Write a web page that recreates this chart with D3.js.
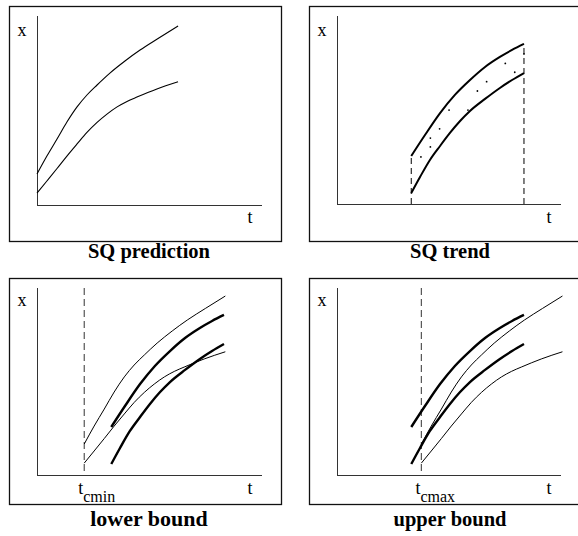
<!DOCTYPE html>
<html>
<head>
<meta charset="utf-8">
<title>SQ bounds</title>
<script src="https://cdn.jsdelivr.net/npm/d3@7"></script>
<style>
  body { margin: 0; background: #fff; }
  text { font-family: "Liberation Serif", "Times New Roman", serif; fill: #000; }
  .title { font-weight: bold; }
</style>
</head>
<body>
<div id="chart"></div>
<script>

// SQ prediction curves (t, x), t counted from the start of the prediction
const predUpper = [[0, 16.4], [4.4, 25.9], [8.9, 34.9], [13.3, 43.9], [17.8, 51.9], [22.2, 58.2], [26.7, 63.5],
                   [32.4, 69.8], [39.1, 76.2], [45.8, 82.0], [53.8, 88.1], [62.7, 94.7]];
const predLower = [[0, 6.3], [4.4, 12.7], [8.9, 19.3], [13.3, 25.9], [17.8, 32.3], [22.2, 38.4], [26.7, 43.7],
                   [31.1, 48.1], [35.6, 51.9], [40.0, 54.8], [44.4, 57.1], [53.3, 61.4], [62.7, 65.2]];

// SQ trend band and the observations it was fitted to
const trendUpper = [[33.0, 25.4], [39.1, 36.5], [45.8, 48.1], [52.4, 57.7], [59.1, 65.6], [65.8, 72.5],
                    [72.4, 77.8], [77.8, 81.5], [83.1, 84.7]];
const trendLower = [[33.0, 5.8], [36.9, 14.3], [41.3, 23.3], [45.8, 30.7], [50.2, 37.6], [54.7, 43.9],
                    [59.1, 49.2], [65.8, 55.6], [72.4, 61.4], [77.8, 65.6], [83.1, 69.3]];
const trendDots = [[37.3, 24.9], [41.5, 34.9], [41.5, 30.2], [45.6, 39.8], [49.8, 49.7], [58.2, 49.7],
                   [62.4, 59.8], [66.5, 64.7], [74.8, 74.4], [79.0, 69.7], [83.1, 79.4]];

const tcmin = 21;
const tcmax = 37.5;

const titles = ["SQ prediction", "SQ trend", "lower bound", "upper bound"];
const subLabels = ["", "", "cmin", "cmax"];

// layout of the four boxes (pixels)
const layout = [
  {fx: 9,   fy: 6,   fw: 272, fh: 235, ox: 37,  oy: 205, top: 16,  right: 262, tx: 149, ty: 258, ts: 20.5, xl: 20, tl: 18},
  {fx: 309, fy: 6,   fw: 290, fh: 235, ox: 337, oy: 204, top: 16,  right: 561, tx: 450, ty: 258, ts: 20.5, xl: 20, tl: 19},
  {fx: 9,   fy: 278, fw: 272, fh: 226, ox: 37,  oy: 475, top: 288, right: 262, tx: 149, ty: 526, ts: 22,   xl: 18, tl: 19},
  {fx: 309, fy: 278, fw: 290, fh: 226, ox: 337, oy: 475, top: 288, right: 561, tx: 450, ty: 526, ts: 20.5, xl: 18, tl: 19}
];

const svg = d3.select("#chart").append("svg")
  .attr("width", 578)
  .attr("height", 536);

function shift(series, dt) {
  return series.map(d => [d[0] + dt, d[1]]);
}

layout.forEach(function (p, i) {
  const g = svg.append("g");
  const xs = d3.scaleLinear().domain([0, 100]).range([p.ox, p.ox + 225]);
  const ys = d3.scaleLinear().domain([0, 100]).range([p.oy, p.oy - 189]);
  const line = d3.line().x(d => xs(d[0])).y(d => ys(d[1])).curve(d3.curveMonotoneX);

  // box
  g.append("rect")
    .attr("x", p.fx + 0.5).attr("y", p.fy + 0.5)
    .attr("width", p.fw).attr("height", p.fh)
    .attr("fill", "none").attr("stroke", "#111").attr("stroke-width", 1.3);

  // axes
  g.append("line")
    .attr("x1", p.ox + 0.5).attr("x2", p.ox + 0.5)
    .attr("y1", p.top).attr("y2", p.oy + 0.5)
    .attr("stroke", "#333");
  g.append("line")
    .attr("x1", p.ox).attr("x2", p.right)
    .attr("y1", p.oy + 0.5).attr("y2", p.oy + 0.5)
    .attr("stroke", "#333");

  g.append("text").attr("x", p.ox - 15).attr("y", p.top + p.xl)
    .attr("text-anchor", "middle").style("font-size", "18px").text("x");
  g.append("text").attr("x", p.right - 12).attr("y", p.oy + p.tl)
    .attr("text-anchor", "middle").style("font-size", "18px").text("t");

  g.append("text").attr("class", "title")
    .attr("x", p.tx).attr("y", p.ty)
    .attr("text-anchor", "middle").style("font-size", p.ts + "px").text(titles[i]);

  if (i == 0) {
    [predUpper, predLower].forEach(function (s) {
      g.append("path").attr("d", line(s))
        .attr("fill", "none").attr("stroke", "#000").attr("stroke-width", 1.1);
    });
  }

  if (i == 1) {
    const ends = [trendUpper[0], trendUpper[trendUpper.length - 1]];
    ends.forEach(function (d) {
      g.append("line")
        .attr("x1", xs(d[0])).attr("x2", xs(d[0]))
        .attr("y1", ys(0)).attr("y2", ys(d[1]))
        .attr("stroke", "#000").attr("stroke-dasharray", "6,4");
    });
    [trendUpper, trendLower].forEach(function (s) {
      g.append("path").attr("d", line(s))
        .attr("fill", "none").attr("stroke", "#000").attr("stroke-width", 2);
    });
    g.selectAll("circle").data(trendDots).enter().append("circle")
      .attr("cx", d => xs(d[0])).attr("cy", d => ys(d[1]))
      .attr("r", 0.9).attr("fill", "#000");
  }

  if (i >= 2) {
    const tc = i == 2 ? tcmin : tcmax;
    g.append("line")
      .attr("x1", xs(tc)).attr("x2", xs(tc))
      .attr("y1", p.top).attr("y2", p.oy)
      .attr("stroke", "#555").attr("stroke-width", 1.2).attr("stroke-dasharray", "7,4");

    [shift(predUpper, tc), shift(predLower, tc)].forEach(function (s) {
      g.append("path").attr("d", line(s))
        .attr("fill", "none").attr("stroke", "#000").attr("stroke-width", 1);
    });
    [trendUpper, trendLower].forEach(function (s) {
      g.append("path").attr("d", line(s))
        .attr("fill", "none").attr("stroke", "#000").attr("stroke-width", 2.4);
    });

    const lab = g.append("text").attr("x", xs(tc) - 6).attr("y", p.oy + 19).style("font-size", "18px");
    lab.append("tspan").text("t");
    lab.append("tspan").attr("dy", 8).style("font-size", "16px").text(subLabels[i]);
  }
});

</script>
</body>
</html>
